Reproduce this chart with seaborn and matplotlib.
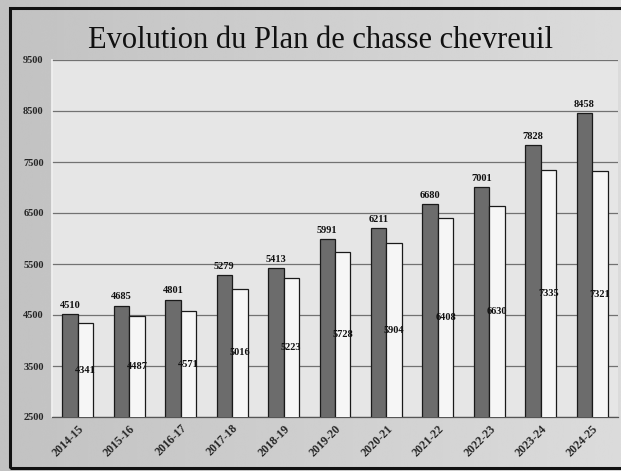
import matplotlib
matplotlib.use("Agg")
import matplotlib.pyplot as plt
import seaborn as sns
import pandas as pd
import numpy as np
from matplotlib.patches import Rectangle

saisons = ["2014-15", "2015-16", "2016-17", "2017-18", "2018-19", "2019-20",
           "2020-21", "2021-22", "2022-23", "2023-24", "2024-25"]
attribues = [4510, 4685, 4801, 5279, 5413, 5991, 6211, 6680, 7001, 7828, 8458]
realises = [4341, 4487, 4571, 5016, 5223, 5728, 5904, 6408, 6630, 7335, 7321]
series = ["Attribués", "Réalisés"]
yticks = [2500, 3500, 4500, 5500, 6500, 7500, 8500, 9500]
title = "Evolution du Plan de chasse chevreuil"

df = pd.DataFrame({
    "saison": saisons * 2,
    "valeur": attribues + realises,
    "serie": [series[0]] * len(saisons) + [series[1]] * len(saisons),
})

sns.set_theme(style="white")
plt.rcParams["font.family"] = ["Liberation Serif", "DejaVu Serif"]

fig = plt.figure(figsize=(6.21, 4.71), dpi=100)
fig.patch.set_facecolor("#d3d3d3")

# soft background gradient (slightly darker on the left, like the photo)
bg = fig.add_axes([0, 0, 1, 1], zorder=-10)
grad = np.tile(np.linspace(0.0, 1.0, 256), (2, 1))
bg.imshow(grad, aspect="auto", cmap="gray", vmin=-7.6, vmax=2.4,
          extent=[0, 1, 0, 1], interpolation="bicubic")
bg.set_axis_off()

ax = fig.add_axes([52/621, 1-417/471, (618-52)/621, (417-60)/471])
ax.set_facecolor("#e6e6e6")

sns.barplot(data=df, x="saison", y="valeur", hue="serie",
            palette=["#6c6c6c", "#f6f6f6"], width=0.6,
            edgecolor="#1a1a1a", linewidth=0.9, legend=False, ax=ax,
            errorbar=None, zorder=3)

ymin, ymax = yticks[0], yticks[-1]
ax.set_ylim(ymin, ymax)
ax.set_xlim(-0.5, len(saisons) - 0.5)
ax.set_yticks(yticks)
ax.yaxis.grid(True, color="#727272", linewidth=0.9, zorder=0)
ax.set_axisbelow(True)
ax.set_xlabel("")
ax.set_ylabel("")

for s in ["top", "right"]:
    ax.spines[s].set_visible(False)
ax.spines["left"].set_color("#f0f0f0")
ax.spines["bottom"].set_color("#555555")
ax.spines["bottom"].set_linewidth(0.9)

ax.tick_params(axis="y", length=0, pad=6, labelsize=7.5)
for lab in ax.get_yticklabels():
    lab.set_fontweight("bold")
ax.set_xticks(range(len(saisons)))
ax.set_xticklabels(saisons, rotation=45, ha="right", rotation_mode="anchor",
                   fontsize=8.5, fontweight="bold")
ax.tick_params(axis="x", length=0, pad=4)
ax.set_xticks(np.arange(-0.5, len(saisons), 1), minor=True)
ax.tick_params(axis="x", which="minor", length=3, color="#555555", width=0.8)

c0, c1 = ax.containers[0], ax.containers[1]
ax.bar_label(c0, labels=[str(v) for v in attribues], padding=3,
             fontsize=7.5, fontweight="bold", color="#111111")
for bar, v in zip(c1, realises):
    ax.text(bar.get_x() + bar.get_width() / 2, (ymin + bar.get_height()) / 2,
            str(v), ha="center", va="center", fontsize=7.5,
            fontweight="bold", color="#111111", zorder=5)

fig.text(320/621, 1-40/471, title, ha="center", va="center",
         fontsize=22, color="#111111")

fig.patches.append(Rectangle((10/621, 1-468/471), 640/621, (468-8)/471,
                             transform=fig.transFigure, fill=False,
                             edgecolor="#111111", linewidth=2.2, zorder=10))

fig.savefig("out.png", dpi=100, facecolor=fig.get_facecolor())
